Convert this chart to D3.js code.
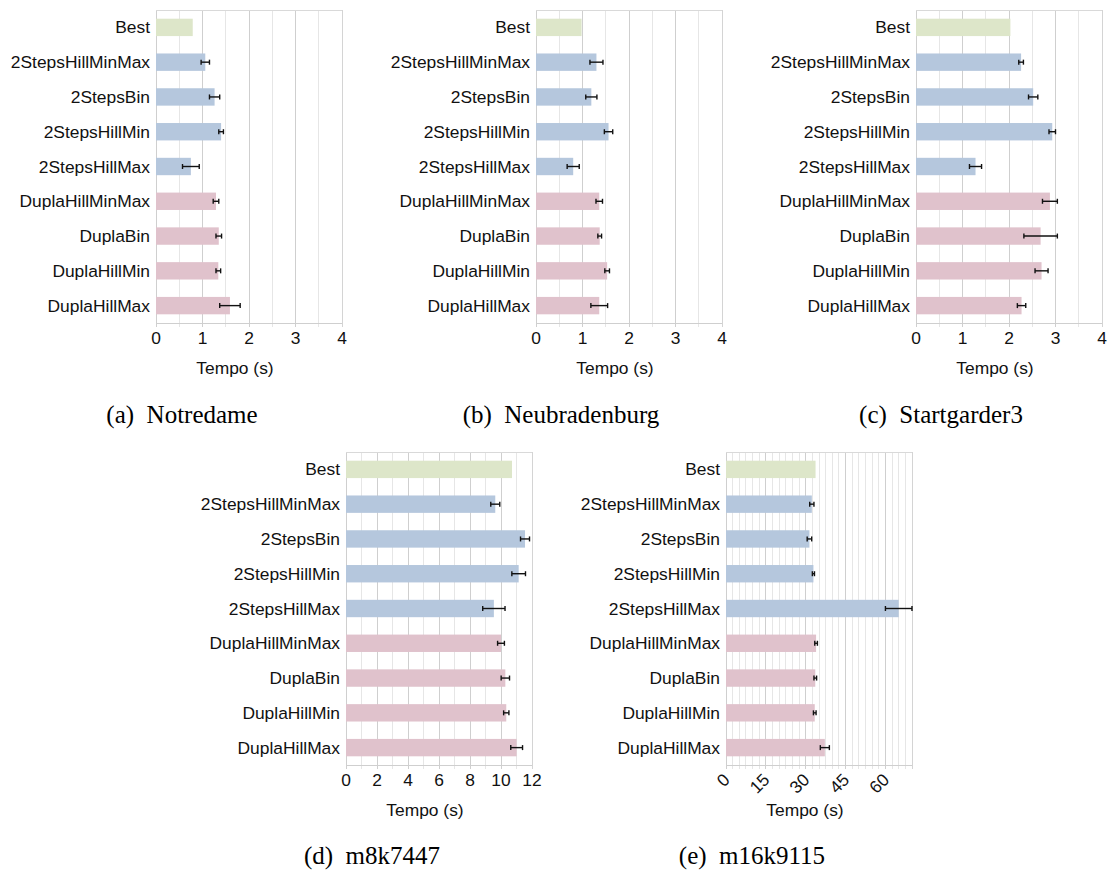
<!DOCTYPE html>
<html>
<head>
<meta charset="utf-8">
<script src="https://cdn.jsdelivr.net/npm/d3@7"></script>
<style>
  html, body { margin: 0; padding: 0; background: #fff; }
  svg { display: block; }
</style>
</head>
<body>
<svg id="chart" width="1112" height="870"></svg>
<script>
// Heuristic names, shared by every panel (top to bottom)
const categories = ["Best", "2StepsHillMinMax", "2StepsBin", "2StepsHillMin", "2StepsHillMax",
                    "DuplaHillMinMax", "DuplaBin", "DuplaHillMin", "DuplaHillMax"];

// Mean run time (s) and error half-width per instance
const notredameMean = [0.79, 1.06, 1.26, 1.40, 0.75, 1.29, 1.35, 1.34, 1.59];
const notredameErr  = [0,    0.09, 0.11, 0.05, 0.18, 0.06, 0.06, 0.05, 0.22];

const neubradenburgMean = [0.98, 1.30, 1.19, 1.56, 0.80, 1.36, 1.37, 1.53, 1.36];
const neubradenburgErr  = [0,    0.14, 0.12, 0.09, 0.13, 0.07, 0.04, 0.05, 0.18];

const startgarder3Mean = [2.03, 2.26, 2.52, 2.93, 1.28, 2.88, 2.68, 2.70, 2.27];
const startgarder3Err  = [0,    0.05, 0.10, 0.07, 0.13, 0.16, 0.36, 0.14, 0.09];

const m8k7447Mean = [10.71, 9.63, 11.55, 11.14, 9.54, 10.00, 10.28, 10.34, 11.01];
const m8k7447Err  = [0,     0.29, 0.29,  0.44,  0.72, 0.22,  0.27,  0.17,  0.38];

const m16k9115Mean = [33.7, 32.3, 31.4, 32.9, 65.0, 33.9, 33.6, 33.4, 37.2];
const m16k9115Err  = [0,    0.8,  0.85, 0.4,  5.0,  0.5,  0.5,  0.5,  1.7];

// Axis ticks per instance
const ticksSmall = [0, 1, 2, 3, 4];
const ticksM8k   = [0, 2, 4, 6, 8, 10, 12];
const ticksM16k  = [0, 15, 30, 45, 60];

const captions = ["(a)  Notredame", "(b)  Neubradenburg", "(c)  Startgarder3", "(d)  m8k7447", "(e)  m16k9115"];
const axisTitle = "Tempo (s)";

const groupColor = name =>
  name === "Best" ? "#dde6c9" : name.startsWith("2Steps") ? "#b5c7dd" : "#e0c2cc";

const panels = [
  { mean: notredameMean,     err: notredameErr,     ticks: ticksSmall, max: 4,  gridStep: 0.5, x: 156, y: 10,  caption: captions[0], capX: 182, capY: 415 },
  { mean: neubradenburgMean, err: neubradenburgErr, ticks: ticksSmall, max: 4,  gridStep: 0.5, x: 536, y: 10,  caption: captions[1], capX: 561, capY: 415 },
  { mean: startgarder3Mean,  err: startgarder3Err,  ticks: ticksSmall, max: 4,  gridStep: 0.5, x: 916, y: 10,  caption: captions[2], capX: 941, capY: 415 },
  { mean: m8k7447Mean,       err: m8k7447Err,       ticks: ticksM8k,   max: 12, gridStep: 1,   x: 346, y: 452, caption: captions[3], capX: 372, capY: 856 },
  { mean: m16k9115Mean,      err: m16k9115Err,      ticks: ticksM16k,  max: 70, gridStep: 2.5, x: 726, y: 452, caption: captions[4], capX: 752, capY: 856, rotate: true }
];

const W = 186, H = 313;
const svg = d3.select("#chart");
const sans = "'Liberation Sans', Arial, sans-serif";
const serif = "'Liberation Serif', 'Times New Roman', serif";
const labelSize = 17.4;

panels.forEach(p => {
  const g = svg.append("g").attr("transform", `translate(${p.x},${p.y})`);
  const x = d3.scaleLinear().domain([0, p.max]).range([0, W]);
  const y = d3.scaleBand().domain(categories).range([0, H]).paddingInner(0.5).paddingOuter(0.25);

  // vertical grid lines, darker at labelled ticks
  const gridVals = d3.range(0, p.max + 1e-9, p.gridStep);
  const isMajor = v => p.ticks.some(t => Math.abs(t - v) < 1e-9);
  g.append("g").selectAll("line").data(gridVals).join("line")
    .attr("x1", d => x(d)).attr("x2", d => x(d))
    .attr("y1", 0).attr("y2", H + 4)
    .attr("stroke", d => isMajor(d) ? "#cfcfcf" : "#e6e6e6")
    .attr("stroke-width", 1)
    .attr("shape-rendering", "crispEdges");

  // frame
  g.append("line").attr("x1", 0).attr("x2", W).attr("y1", 0).attr("y2", 0)
    .attr("stroke", "#d9d9d9").attr("shape-rendering", "crispEdges");
  g.append("line").attr("x1", 0).attr("x2", W).attr("y1", H).attr("y2", H)
    .attr("stroke", "#cfcfcf").attr("shape-rendering", "crispEdges");
  g.append("line").attr("x1", W).attr("x2", W).attr("y1", 0).attr("y2", H + 4)
    .attr("stroke", "#d4d4d4").attr("shape-rendering", "crispEdges");

  // bars
  g.append("g").selectAll("rect").data(categories).join("rect")
    .attr("x", x(0))
    .attr("y", d => y(d))
    .attr("width", (d, i) => x(p.mean[i]) - x(0))
    .attr("height", y.bandwidth())
    .attr("fill", d => groupColor(d));

  // error bars
  const eb = g.append("g").attr("stroke", "#111").attr("stroke-width", 1.4);
  categories.forEach((c, i) => {
    if (!p.err[i]) return;
    const cy = y(c) + y.bandwidth() / 2;
    const lo = x(p.mean[i] - p.err[i]), hi = x(p.mean[i] + p.err[i]);
    eb.append("line").attr("x1", lo).attr("x2", hi).attr("y1", cy).attr("y2", cy);
    eb.append("line").attr("x1", lo).attr("x2", lo).attr("y1", cy - 2.5).attr("y2", cy + 2.5);
    eb.append("line").attr("x1", hi).attr("x2", hi).attr("y1", cy - 2.5).attr("y2", cy + 2.5);
  });

  // category labels
  g.append("g").selectAll("text").data(categories).join("text")
    .attr("x", -6)
    .attr("y", d => y(d) + y.bandwidth() / 2)
    .attr("dy", "0.35em")
    .attr("text-anchor", "end")
    .attr("font-family", sans).attr("font-size", labelSize).attr("fill", "#111")
    .text(d => d);

  // x tick labels
  const tl = g.append("g").selectAll("text").data(p.ticks).join("text")
    .attr("font-family", sans).attr("font-size", labelSize).attr("fill", "#111")
    .attr("dy", "0.35em")
    .text(d => d);
  if (p.rotate) {
    tl.attr("text-anchor", "end")
      .attr("transform", d => `translate(${x(d) + 0.5},${H + 11.5}) rotate(-45)`);
  } else {
    tl.attr("text-anchor", "middle")
      .attr("x", d => x(d)).attr("y", H + 15);
  }

  // axis title
  g.append("text")
    .attr("x", W / 2 - 14).attr("y", H + 45).attr("dy", "0.35em")
    .attr("text-anchor", "middle")
    .attr("font-family", sans).attr("font-size", labelSize).attr("fill", "#111")
    .text(axisTitle);

  // caption
  svg.append("text")
    .attr("x", p.capX).attr("y", p.capY).attr("dy", "0.32em")
    .attr("text-anchor", "middle")
    .attr("font-family", serif).attr("font-size", 25).attr("fill", "#000")
    .attr("xml:space", "preserve").style("white-space", "pre")
    .text(p.caption);
});
</script>
</body>
</html>
